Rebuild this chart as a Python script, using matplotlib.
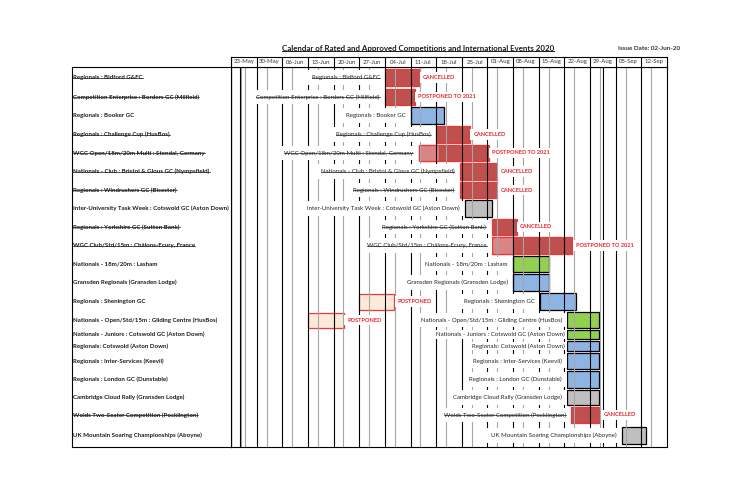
import matplotlib.pyplot as plt
from matplotlib.patches import Rectangle
from matplotlib.lines import Line2D

plt.rcParams['font.family'] = ['Lato', 'DejaVu Sans']

# week columns (days counted from 23-May-2020)
weeks = ['23-May', '30-May', '06-Jun', '13-Jun', '20-Jun', '27-Jun', '04-Jul', '11-Jul',
         '18-Jul', '25-Jul', '01-Aug', '08-Aug', '15-Aug', '22-Aug', '29-Aug', '05-Sep', '12-Sep']

events = [
    'Regionals : Bidford G&FC',
    'Competition Enterprise : Borders GC (Milfield)',
    'Regionals : Booker GC',
    'Regionals : Challenge Cup (HusBos)',
    'WGC Open/18m/20m Multi : Stendal, Germany',
    'Nationals - Club : Bristol & Glous GC (Nympsfield)',
    'Regionals : Windrushers GC (Bicester)',
    'Inter-University Task Week : Cotswold GC (Aston Down)',
    'Regionals : Yorkshire GC (Sutton Bank)',
    'WGC Club/Std/15m : Châlons-Ecury, France',
    'Nationals - 18m/20m : Lasham',
    'Gransden Regionals (Gransden Lodge)',
    'Regionals : Shenington GC',
    'Nationals - Open/Std/15m : Gliding Centre (HusBos)',
    'Nationals - Juniors : Cotswold GC (Aston Down)',
    'Regionals: Cotswold (Aston Down)',
    'Regionals : Inter-Services (Keevil)',
    'Regionals : London GC (Dunstable)',
    'Cambridge Cloud Rally (Gransden Lodge)',
    'Wolds Two-Seater Competition (Pocklington)',
    'UK Mountain Soaring Championships (Aboyne)',
]
kind = ['red', 'red', 'blue', 'red', 'red', 'red', 'red', 'grey', 'red', 'red', 'green',
        'blue', 'blue', 'green', 'green', 'blue', 'blue', 'blue', 'grey', 'red', 'grey']
struck = [True, True, False, True, True, True, True, False, True, True, False,
          False, False, False, False, False, False, False, False, True, False]
status = ['CANCELLED', 'POSTPONED TO 2021', '', 'CANCELLED', 'POSTPONED TO 2021', 'CANCELLED',
          'CANCELLED', '', 'CANCELLED', 'POSTPONED TO 2021', '', '', '', '', '', '', '', '', '',
          'CANCELLED', '']
start = [42, 42, 49, 56, 51.2, 62.4, 62.4, 63.8, 71.1, 71.3, 77, 77, 84.3, 91.8, 91.8, 91.8,
         91.8, 91.8, 91.8, 92.8, 106.6]
end = [51.5, 50.2, 58.2, 65.2, 70.3, 72.7, 72.7, 71.3, 78, 93.1, 86.7, 86.7, 94.1, 100.4,
       100.4, 100.4, 100.4, 100.4, 100.4, 100.7, 113.4]
# lighter leading part of the postponed international events
light_rows = [4, 9]
light_end = [56.8, 77]
# original dates of events that were moved
moved_rows = [12, 13]
moved_start = [35, 21]
moved_end = [44.5, 30.8]

row_h = [21, 18, 19, 19, 18, 19, 18, 19, 18, 19, 18, 19, 19, 18, 11, 12, 18, 19, 17, 18, 23]

colors = {'red': ('#c0504d', '#e8383a'), 'blue': ('#8db4e2', 'black'),
          'green': ('#92d050', 'black'), 'grey': ('#bfbfbf', 'black')}
RED = '#e3262d'
FS = 4.4
SFS = 4.1

W, H = 730, 500
fig = plt.figure(figsize=(W / 100, H / 100), dpi=100)

def frac(x0, y0, w, h):
    return [x0 / W, 1 - (y0 + h) / H, w / W, h / H]

ax = fig.add_axes(frac(231, 67, 436, 380))
hax = fig.add_axes(frac(231, 57, 436, 10))
lax = fig.add_axes(frac(72, 67, 159, 380))

total = sum(row_h)
centers = []
acc = 0
for h in row_h:
    centers.append(acc + h / 2)
    acc += h

ndays = 7 * len(weeks)
ax.set_xlim(0, ndays)
ax.set_ylim(total, 0)
hax.set_xlim(0, ndays)
hax.set_ylim(0, 1)
lax.set_xlim(0, 1)
lax.set_ylim(total, 0)
for a in (ax, hax, lax):
    a.set_xticks([])
    a.set_yticks([])
    for s in a.spines.values():
        s.set_linewidth(0.8)

# week grid
for i in range(len(weeks)):
    ax.axvline(7 * i, color='black', lw=0.8, zorder=2)
    ax.axvline(7 * i + 2.7, color='#a6a6a6', lw=0.8, zorder=2)
    hax.axvline(7 * i, color='black', lw=0.8)
    hax.text(7 * i + 3.5, 0.5, weeks[i], ha='center', va='center', fontsize=4.3, color='#333333')
ax.axvline(2.45, color='black', lw=0.8, zorder=2)
ax.axvline(3.8, color='#a6a6a6', lw=0.8, zorder=2)
ax.axvline(7 * 14 + 3.6, color='black', lw=0.8, zorder=2)


def status_label(x, y, txt):
    p = 0.5
    ax.annotate(txt, (x, y), xytext=(SFS * p + 0.4, 0), textcoords='offset points',
                ha='left', va='center', fontsize=SFS, fontweight='bold', color=RED, zorder=3,
                bbox=dict(boxstyle='square,pad=%.2f' % p, fc='white', ec='none'))


strike = []
for i, name in enumerate(events):
    y = centers[i]
    bh = min(row_h[i] - 2, 17)
    fc, ec = colors[kind[i]]
    ax.add_patch(Rectangle((start[i], y - bh / 2), end[i] - start[i], bh, facecolor=fc,
                           edgecolor=ec, lw=0.9, zorder=1))
    pad = 0.75 if row_h[i] > 14 else 0.25
    t = ax.annotate(name, (start[i], y), xytext=(-FS * pad - 0.5, 0), textcoords='offset points',
                    ha='right', va='center', fontsize=FS, color='#262626', zorder=3,
                    bbox=dict(boxstyle='square,pad=%.2f' % pad, fc='white', ec='none'))
    lt = lax.text(0.008, y, name, ha='left', va='center', fontsize=FS, fontweight='bold',
                  color='#1a1a1a')
    if struck[i]:
        strike += [t, lt]
    if status[i]:
        status_label(end[i], y, status[i])

for r, e in zip(light_rows, light_end):
    bh = row_h[r] - 2
    ax.add_patch(Rectangle((start[r], centers[r] - bh / 2), e - start[r], bh, facecolor='#d98585',
                           edgecolor='#e8383a', lw=0.9, zorder=1.1))

for r, s, e in zip(moved_rows, moved_start, moved_end):
    bh = row_h[r] - 3
    ax.add_patch(Rectangle((s, centers[r] - bh / 2), e - s, bh, facecolor='#fde9d9',
                           edgecolor='#e8383a', lw=0.9, zorder=1))
    status_label(e, centers[r], 'POSTPONED')

title = fig.text(418 / W, 1 - 48 / H,
                 'Calendar of Rated and Approved Competitions and International Events 2020',
                 ha='center', va='center', fontsize=5.7, fontweight='bold', color='#1a1a1a')
fig.text(680 / W, 1 - 48 / H, 'Issue Date: 02-Jun-20', ha='right', va='center',
         fontsize=4.6, fontweight='bold', color='#333333')

# strike-through and underline need the rendered text extents
fig.canvas.draw()
r = fig.canvas.get_renderer()
for t in strike:
    bb = t.get_window_extent(r)
    ym = (bb.y0 + bb.y1) / 2
    fig.add_artist(Line2D([bb.x0 / W, bb.x1 / W], [ym / H, ym / H], color='#1a1a1a', lw=0.5,
                          zorder=5))
bb = title.get_window_extent(r)
fig.add_artist(Line2D([bb.x0 / W, bb.x1 / W], [(bb.y0 + 1) / H] * 2, color='#1a1a1a', lw=0.7))

fig.savefig('out.png', dpi=100)
